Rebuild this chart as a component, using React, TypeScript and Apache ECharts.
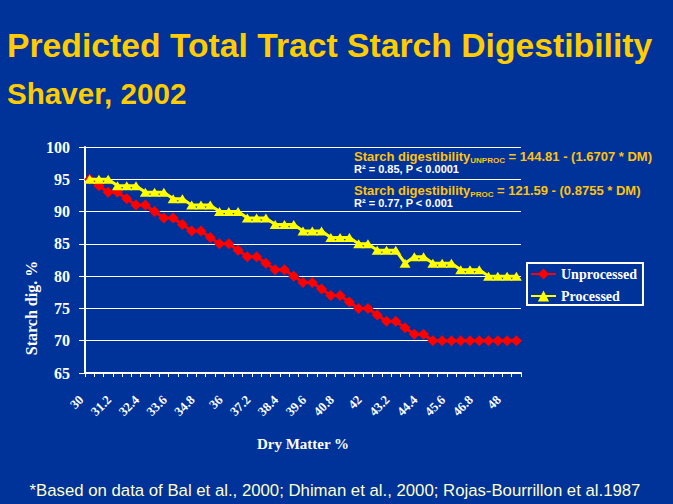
import React, { useEffect, useRef } from 'react';
import * as echarts from 'echarts';

const titleText = 'Predicted Total Tract Starch Digestibility';
const subtitleText = 'Shaver, 2002';
const footnoteText = '*Based on data of Bal et al., 2000; Dhiman et al., 2000; Rojas-Bourrillon et al.1987';

const dryMatter = [
  '30', '30.4', '30.8', '31.2', '31.6', '32', '32.4', '32.8', '33.2', '33.6',
  '34', '34.4', '34.8', '35.2', '35.6', '36', '36.4', '36.8', '37.2', '37.6',
  '38', '38.4', '38.8', '39.2', '39.6', '40', '40.4', '40.8', '41.2', '41.6',
  '42', '42.4', '42.8', '43.2', '43.6', '44', '44.4', '44.8', '45.2', '45.6',
  '46', '46.4', '46.8', '47.2', '47.6', '48', '48.4',
];

const unprocessed = [
  95, 94, 93, 93, 92, 91, 91, 90, 89, 89,
  88, 87, 87, 86, 85, 85, 84, 83, 83, 82,
  81, 81, 80, 79, 79, 78, 77, 77, 76, 75,
  75, 74, 73, 73, 72, 71, 71, 70, 70, 70,
  70, 70, 70, 70, 70, 70, 70,
];

const processed = [
  95, 95, 95, 94, 94, 94, 93, 93, 93, 92,
  92, 91, 91, 91, 90, 90, 90, 89, 89, 89,
  88, 88, 88, 87, 87, 87, 86, 86, 86, 85,
  85, 84, 84, 84, 82, 83, 83, 82, 82, 82,
  81, 81, 81, 80, 80, 80, 80,
];

const seriesNames = ['Unprocessed', 'Processed'];

const SANS = '"Liberation Sans", Arial, sans-serif';
const SERIF = '"Liberation Serif", "Times New Roman", serif';
const GOLD = '#FFCC00';
const EQ_GOLD = '#FFC20E';

export default function App() {
  const ref = useRef<HTMLDivElement>(null);
  useEffect(() => {
    const chart = echarts.init(ref.current as HTMLDivElement, null, { renderer: 'svg' });
    const eqRich = {
      m: { fontFamily: SANS, fontWeight: 'bold', fontSize: 13, lineHeight: 16, fill: EQ_GOLD, color: EQ_GOLD },
      s: { fontFamily: SANS, fontWeight: 'bold', fontSize: 8, lineHeight: 8, verticalAlign: 'bottom', fill: EQ_GOLD, color: EQ_GOLD },
    };
    chart.setOption({
      animation: false,
      backgroundColor: '#003399',
      grid: { left: 85, right: 152, top: 147, bottom: 131, containLabel: false },
      legend: {
        data: seriesNames,
        orient: 'vertical',
        left: 527,
        top: 263,
        borderColor: '#ffffff',
        borderWidth: 2,
        padding: [4, 6, 2, 3],
        itemGap: 8,
        itemWidth: 25,
        itemHeight: 14,
        textStyle: { color: '#ffffff', fontFamily: SERIF, fontWeight: 'bold', fontSize: 14 },
      },
      xAxis: {
        type: 'category',
        data: dryMatter,
        boundaryGap: true,
        name: 'Dry Matter %',
        nameLocation: 'middle',
        nameGap: 63,
        nameTextStyle: { color: '#ffffff', fontFamily: SERIF, fontWeight: 'bold', fontSize: 15 },
        axisLine: { lineStyle: { color: '#ffffff', width: 2 } },
        axisTick: { show: true, interval: 0, length: 4, lineStyle: { color: '#ffffff' } },
        axisLabel: {
          interval: 2,
          rotate: 45,
          color: '#ffffff',
          fontFamily: SERIF,
          fontWeight: 'bold',
          fontSize: 13,
          margin: 16,
          padding: [0, 12, 0, 0],
        },
        splitLine: { show: false },
      },
      yAxis: {
        type: 'value',
        min: 65,
        max: 100,
        interval: 5,
        axisLine: { show: true, lineStyle: { color: '#ffffff', width: 2 } },
        axisTick: { show: true, length: 6, lineStyle: { color: '#ffffff' } },
        axisLabel: { color: '#ffffff', fontFamily: SERIF, fontWeight: 'bold', fontSize: 16, margin: 15 },
        splitLine: { show: true, lineStyle: { color: '#ffffff', width: 1 } },
      },
      series: [
        {
          name: seriesNames[0],
          type: 'line',
          data: unprocessed,
          symbol: 'diamond',
          symbolSize: 11,
          showSymbol: true,
          showAllSymbol: true,
          lineStyle: { color: '#FF0000', width: 3 },
          itemStyle: { color: '#FF0000' },
          z: 2,
        },
        {
          name: seriesNames[1],
          type: 'line',
          data: processed,
          symbol: 'triangle',
          symbolSize: [11, 9],
          showSymbol: true,
          showAllSymbol: true,
          lineStyle: { color: '#FFFF00', width: 3 },
          itemStyle: { color: '#FFFF00' },
          z: 3,
        },
      ],
      graphic: [
        {
          type: 'text', x: 7, y: 44.5,
          style: { text: titleText, fill: GOLD, font: `bold 33.7px ${SANS}`, verticalAlign: 'middle' },
        },
        {
          type: 'text', x: 7, y: 93,
          style: { text: subtitleText, fill: GOLD, font: `bold 29.6px ${SANS}`, verticalAlign: 'middle' },
        },
        {
          type: 'text', x: 354, y: 156.7,
          style: {
            text: '{m|Starch digestibility}{s|UNPROC}{m| = 144.81 - (1.6707 * DM)}',
            rich: eqRich, verticalAlign: 'middle',
          },
        },
        {
          type: 'text', x: 354, y: 169.4,
          style: { text: 'R² = 0.85, P < 0.0001', fill: '#ffffff', font: `bold 11px ${SANS}`, verticalAlign: 'middle' },
        },
        {
          type: 'text', x: 354, y: 190.4,
          style: {
            text: '{m|Starch digestibility}{s|PROC}{m| = 121.59 - (0.8755 * DM)}',
            rich: eqRich, verticalAlign: 'middle',
          },
        },
        {
          type: 'text', x: 354, y: 202.8,
          style: { text: 'R² = 0.77, P < 0.001', fill: '#ffffff', font: `bold 11px ${SANS}`, verticalAlign: 'middle' },
        },
        {
          type: 'text', x: 31, y: 308, rotation: Math.PI / 2,
          style: { text: 'Starch dig. %', fill: '#ffffff', font: `bold 16px ${SERIF}`, align: 'center', verticalAlign: 'middle' },
        },
        {
          type: 'text', x: 335, y: 490,
          style: { text: footnoteText, fill: '#FFFFCC', font: `16.75px ${SANS}`, align: 'center', verticalAlign: 'middle' },
        },
      ],
    });
    return () => chart.dispose();
  }, []);
  return <div ref={ref} style={{ position: 'absolute', left: 0, top: 0, width: 673, height: 504 }} />;
}
